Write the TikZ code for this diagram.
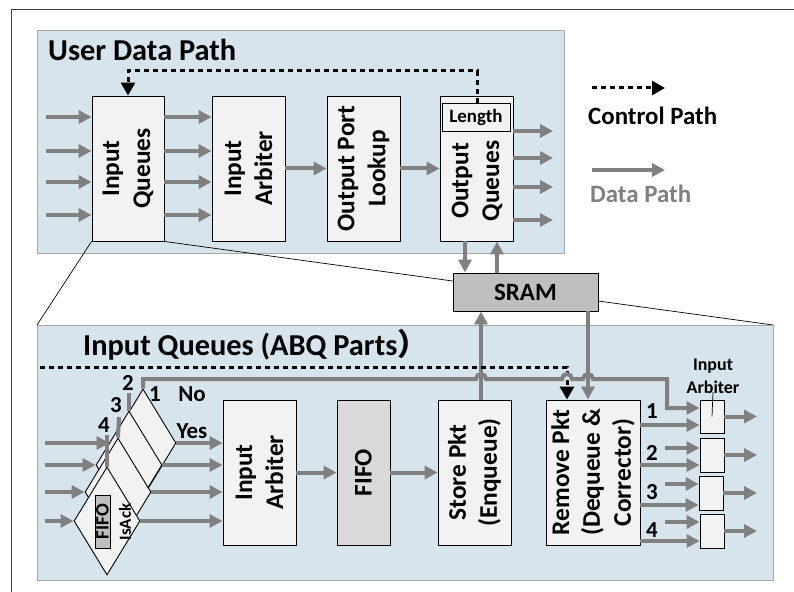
\documentclass[tikz,border=0pt]{standalone}
\usepackage{fontspec}
\setmainfont{Carlito}
\newfontfamily\cjk{Noto Sans CJK SC}
\usetikzlibrary{arrows.meta,shapes.geometric}

\definecolor{panel}{RGB}{214,228,237}
\definecolor{paneledge}{RGB}{166,166,166}
\definecolor{boxfill}{RGB}{242,242,242}
\definecolor{flow}{RGB}{128,128,128}
\definecolor{sramfill}{RGB}{191,191,191}
\definecolor{fifofill}{RGB}{217,217,217}

\tikzset{
  panelbox/.style={draw=paneledge, fill=panel, line width=1bp},
  unit/.style={draw=black, fill=boxfill, line width=0.9bp, inner sep=0pt},
  decision/.style={diamond, draw=black, fill=boxfill, line width=0.9bp, inner sep=0pt,
                   minimum width=66bp, minimum height=108bp},
  data/.style={draw=flow, line width=4bp, -{Triangle[length=13bp,width=13bp]}},
  dataline/.style={draw=flow, line width=4bp},
  ctrl/.style={draw=black, line width=3bp, dash pattern=on 5bp off 4bp,
               -{Triangle[length=13bp,width=14bp]}},
  boxtext/.style={font=\bfseries\fontsize{25.5}{31}\selectfont, align=center, rotate=90, inner sep=0pt},
  title/.style={font=\bfseries\fontsize{30.5}{35}\selectfont, anchor=base west, inner sep=0pt},
  num/.style={font=\bfseries\fontsize{23}{26}\selectfont, inner sep=0pt},
  zoomline/.style={draw=black, line width=0.7bp}
}

\begin{document}
\begin{tikzpicture}[x=1bp, y=-1bp]
\useasboundingbox (0,0) rectangle (794,592);

% outer frame
\draw[draw=black!75, line width=0.8bp] (11,600) -- (11,9) -- (800,9);

% ---------------- upper panel: user data path ----------------
\draw[panelbox] (37,31) rectangle (564,253);
\node[title] (uptitle) at (48,61) {User Data Path};

\node[unit, minimum width=72bp, minimum height=145bp] (iq)  at (128,168.5) {};
\node[unit, minimum width=73bp, minimum height=145bp] (ia)  at (248.5,168.5) {};
\node[unit, minimum width=73bp, minimum height=145bp] (opl) at (363.5,168.5) {};
\node[unit, minimum width=73bp, minimum height=145bp] (oq)  at (476.5,168.5) {};
\node[unit, minimum width=68bp, minimum height=28bp] (len) at (476,117)
     {\bfseries\fontsize{19}{22}\selectfont Length};

\node[boxtext] (iqtext)  at (iq)  {Input\\Queues};
\node[boxtext] (iatext)  at (ia)  {Input\\Arbiter};
\node[boxtext] (opltext) at (opl) {Output Port\\Lookup};
\node[boxtext] (oqtext)  at (477,181) {Output\\Queues};

% data arrows
\foreach \yy in {117,151,182,215} {
  \draw[data] (46,\yy) -- (iq.west |- 0,\yy);
  \draw[data] (iq.east |- 0,\yy) -- (ia.west |- 0,\yy);
}
\draw[data] (ia.east) -- (opl.west);
\draw[data] (opl.east) -- (oq.west);
\foreach \yy in {131,158,187,220}
  \draw[data] (oq.east |- 0,\yy) -- (553,\yy);

% control path from the length field back to the input queues
\draw[ctrl] (477,0 |- len.north) -- (477,71) -- (128,71) -- (iq.north);

% legend
\coordinate (lgc1) at (592,88);
\coordinate (lgc2) at (665,88);
\coordinate (lgd1) at (592,170);
\coordinate (lgd2) at (665,170);
\draw[ctrl] (lgc1) -- (lgc2);
\node[font=\bfseries\fontsize{25}{30}\selectfont, anchor=base west, inner sep=0pt] (lgctext) at (588,125) {Control Path};
\draw[data] (lgd1) -- (lgd2);
\node[font=\bfseries\fontsize{25}{30}\selectfont, anchor=base west, inner sep=0pt, text=flow] (lgdtext) at (590,203) {Data Path};

% zoom lines from the input queues to the detail panel
\coordinate (zl) at (37,325);
\coordinate (zr) at (773,325);
\draw[zoomline] (iq.south west) -- (zl);
\draw[zoomline] (iq.south east) -- (zr);

% SRAM
\node[draw=black, fill=sramfill, line width=0.9bp, minimum width=145bp, minimum height=38bp, inner sep=0pt,
      font=\bfseries\fontsize{25}{30}\selectfont] (sram) at (525.5,292) {SRAM};
\draw[data] (465,0 |- oq.south) -- (465,0 |- sram.north);
\draw[data] (497,0 |- sram.north) -- (497,0 |- oq.south);

% ---------------- lower panel: input queue detail ----------------
\draw[panelbox] (37,325) rectangle (773,580);
\node[title] (lotitle) at (83,355) {Input Queues (ABQ Parts{\cjk ）}};

\node[unit, minimum width=73bp, minimum height=145bp] (lia)    at (259.5,472.5) {};
\node[unit, minimum width=53bp, minimum height=145bp, fill=fifofill] (fifo) at (363.5,472.5) {};
\node[unit, minimum width=73bp, minimum height=145bp] (store)  at (474.5,472.5) {};
\node[unit, minimum width=94bp, minimum height=145bp] (remove) at (593,472.5) {};

\node[boxtext] (liatext)    at (lia)    {Input\\Arbiter};
\node[boxtext] (fifotext)   at (fifo)   {FIFO};
\node[boxtext] (storetext)  at (store)  {Store Pkt\\(Enqueue)};
\node[boxtext] (removetext) at (remove) {Remove Pkt\\(Dequeue \&\\Corrector)};

% small output arbiters
\node[unit, minimum width=24bp, minimum height=33bp] (arb1) at (712,416.5) {};
\node[unit, minimum width=24bp, minimum height=34bp] (arb2) at (712,455) {};
\node[unit, minimum width=24bp, minimum height=34bp] (arb3) at (711,493) {};
\node[unit, minimum width=24bp, minimum height=34bp] (arb4) at (712,531) {};
\node[font=\bfseries\fontsize{18}{23}\selectfont, align=center, inner sep=0pt] (arblbl) at (713,376) {Input\\Arbiter};
\draw[draw=black, line width=0.7bp] (713,392) -- (arb1.center);

% stacked IsAck decisions, back to front
\node[decision] (d1) at (143,443) {};
\node[decision] (d2) at (129,465) {};
\node[decision] (d3) at (118,492) {};
\node[decision] (d4) at (107,521) {};
\node[draw=black, fill=sramfill, line width=0.8bp, rotate=90, minimum width=53bp, minimum height=15bp, inner sep=0pt,
      font=\bfseries\fontsize{19}{22}\selectfont] (dfifo) at (102.5,521.5) {FIFO};
\node[rotate=90, inner sep=0pt, font=\bfseries\fontsize{17}{20}\selectfont] (disack) at (125,522) {IsAck};

% short stubs from the hidden "No" outputs
\coordinate (s2) at (129,393);
\coordinate (s3) at (119,417);
\coordinate (s4) at (107,435);
\draw[dataline] (s2) -- (d2.north);
\draw[dataline] (s3) -- (d3.north);
\draw[dataline] (s4) -- (d4.north);

\node[num] (n1) at (155,394) {1};
\node[num] (n2) at (128,383) {2};
\node[num] (n3) at (116,405) {3};
\node[num] (n4) at (104,425) {4};
\node[num] (nno)  at (192,394) {No};
\node[num] (nyes) at (192,431) {Yes};

% inputs into and outputs out of the decisions
\foreach \d in {d1,d2,d3,d4} {
  \draw[data] (45,0 |- \d.west) -- (\d.west);
  \draw[data] (\d.east) -- (lia.west |- \d.east);
}

\draw[data] (lia.east) -- (fifo.west);
\draw[data] (fifo.east) -- (store.west);

% store to SRAM, SRAM to remove
\draw[data] (481,0 |- store.north) -- (481,0 |- sram.south);
\draw[data] (588,0 |- sram.south) -- (588,0 |- remove.north);

% control path to remove
\draw[ctrl] (40,367) -- (567,367) -- (567,0 |- remove.north);

% "No" path around to the first output arbiter, hopping over the crossings
\draw[data] (d1.north) -- (143,379) -- (476,379) arc[start angle=180, end angle=0, radius=5bp]
  -- (562,379) arc[start angle=180, end angle=0, radius=5bp]
  -- (583,379) arc[start angle=180, end angle=0, radius=5bp]
  -- (667,379) -- (667,408) -- (arb1.west |- 0,408);

% remove outputs to arbiters
\draw[data] (remove.east |- 0,425) -- (arb1.west |- 0,425);
\draw[data] (remove.east |- 0,465) -- (arb2.west |- 0,465);
\draw[data] (remove.east |- 0,505) -- (arb3.west |- 0,505);
\draw[data] (remove.east |- 0,541) -- (arb4.west |- 0,541);
\draw[data] (665,448) -- (arb2.west |- 0,448);
\draw[data] (665,484) -- (arb3.west |- 0,484);
\draw[data] (665,522) -- (arb4.west |- 0,522);
\node[num] (r1) at (652,411) {1};
\node[num] (r2) at (652,453) {2};
\node[num] (r3) at (652,492) {3};
\node[num] (r4) at (652,530) {4};

\foreach \a in {arb1,arb2,arb3,arb4}
  \draw[data] (\a.east) -- (757,0 |- \a.east);

\end{tikzpicture}
\end{document}
